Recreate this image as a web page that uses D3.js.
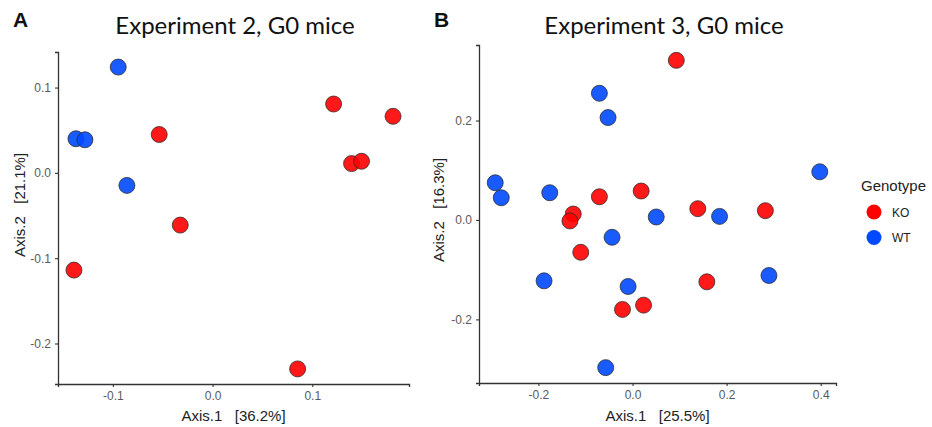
<!DOCTYPE html>
<html>
<head>
<meta charset="utf-8">
<script src="https://cdn.jsdelivr.net/npm/d3@7"></script>
<style>
  html, body { margin: 0; padding: 0; background: #fff; }
  svg { display: block; }
</style>
</head>
<body>
<svg id="chart" width="932" height="427"></svg>
<script>
// PCoA ordination, two experiments; coordinates on the first two axes.
const genotypes = ["KO", "WT"];
const genotypeColors = ["#ff0000", "#0049ff"];

// Experiment 2, G0 mice
const exp2Axis1 = [-0.0946, -0.137, -0.128, -0.0859, -0.0535, -0.0324, -0.139, 0.1214, 0.181, 0.1394, 0.1494, 0.0853];
const exp2Axis2 = [0.124, 0.040, 0.0388, -0.0147, 0.045, -0.0612, -0.114, 0.0807, 0.0663, 0.0109, 0.0136, -0.2298];
const exp2Genotype = ["WT", "WT", "WT", "WT", "KO", "KO", "KO", "KO", "KO", "KO", "KO", "KO"];
const exp2XTicks = [-0.1, 0.0, 0.1];
const exp2YTicks = [-0.2, -0.1, 0.0, 0.1];

// Experiment 3, G0 mice
const exp3Axis1 = [-0.0704, -0.052, -0.2918, -0.279, -0.1759, -0.0435, -0.188, -0.057, 0.398, 0.0504, 0.185, 0.290, -0.0094,
                   0.0931, -0.0704, -0.126, -0.133, -0.110, 0.0184, 0.1387, 0.2824, 0.158, -0.0213, 0.0235];
const exp3Axis2 = [0.2548, 0.206, 0.0748, 0.0447, 0.0548, -0.0349, -0.1224, -0.297, 0.0969, 0.006, 0.0072, -0.1117, -0.1338,
                   0.321, 0.0467, 0.012, -0.002, -0.065, 0.0582, 0.0227, 0.0187, -0.1244, -0.18, -0.1713];
const exp3Genotype = ["WT", "WT", "WT", "WT", "WT", "WT", "WT", "WT", "WT", "WT", "WT", "WT", "WT",
                      "KO", "KO", "KO", "KO", "KO", "KO", "KO", "KO", "KO", "KO", "KO"];
const exp3XTicks = [-0.2, 0.0, 0.2, 0.4];
const exp3YTicks = [-0.2, 0.0, 0.2];

const svg = d3.select("#chart");
const color = d3.scaleOrdinal().domain(genotypes).range(genotypeColors);
const fmt = d => d.toFixed(1);
const sans = "'Liberation Sans', Arial, sans-serif";

function expanded(values) {
  const [lo, hi] = d3.extent(values);
  const pad = (hi - lo) * 0.05;
  return [lo - pad, hi + pad];
}

function panel(opts) {
  const { letter, letterX, title, titleX, box, xs, ys, groups, xTicks, yTicks, xLabel, yLabel, yLabelPos } = opts;
  const x = d3.scaleLinear().domain(expanded(xs)).range([box.left, box.right]);
  const y = d3.scaleLinear().domain(expanded(ys)).range([box.bottom, box.top]);

  const g = svg.append("g");

  g.append("text")
    .attr("x", letterX).attr("y", 27)
    .attr("font-family", sans)
    .attr("font-weight", "bold").attr("font-size", 21)
    .attr("fill", "#111")
    .text(letter);

  g.append("text")
    .attr("x", titleX).attr("y", 34)
    .attr("text-anchor", "middle")
    .attr("font-family", "Lato, 'Open Sans', sans-serif")
    .attr("font-size", 24)
    .attr("fill", "#111")
    .text(title);

  const xAxis = g.append("g")
    .attr("transform", `translate(0,${box.bottom})`)
    .call(d3.axisBottom(x).tickValues(xTicks).tickFormat(fmt).tickSizeOuter(0).tickSize(3).tickPadding(4));
  const yAxis = g.append("g")
    .attr("transform", `translate(${box.left},0)`)
    .call(d3.axisLeft(y).tickValues(yTicks).tickFormat(fmt).tickSizeOuter(0).tickSize(3).tickPadding(4));

  [xAxis, yAxis].forEach(a => {
    a.attr("font-family", sans).attr("font-size", 12);
    a.select(".domain").attr("stroke", "#333").attr("stroke-width", 1.3);
    a.selectAll(".tick line").attr("stroke", "#333").attr("stroke-width", 1.1);
    a.selectAll(".tick text").attr("fill", "#5a5a5a");
  });

  g.append("text")
    .attr("x", (box.left + box.right) / 2).attr("y", 421)
    .attr("text-anchor", "middle")
    .attr("font-family", sans)
    .attr("font-size", 15)
    .attr("fill", "#222")
    .attr("xml:space", "preserve")
    .text(xLabel);

  g.append("text")
    .attr("transform", `translate(${yLabelPos[0]},${yLabelPos[1]}) rotate(-90)`)
    .attr("text-anchor", "middle")
    .attr("font-family", sans)
    .attr("font-size", 15)
    .attr("fill", "#222")
    .attr("xml:space", "preserve")
    .text(yLabel);

  g.append("g").selectAll("circle")
    .data(xs.map((v, i) => ({ a1: v, a2: ys[i], geno: groups[i] })))
    .join("circle")
    .attr("cx", d => x(d.a1))
    .attr("cy", d => y(d.a2))
    .attr("r", 8)
    .attr("fill", d => color(d.geno))
    .attr("fill-opacity", 0.9)
    .attr("stroke", "#2a2a2a")
    .attr("stroke-opacity", 0.85)
    .attr("stroke-width", 0.9);
}

panel({
  letter: "A", letterX: 13,
  title: "Experiment 2, G0 mice", titleX: 235,
  box: { left: 58, right: 409, top: 52, bottom: 384 },
  xs: exp2Axis1, ys: exp2Axis2, groups: exp2Genotype,
  xTicks: exp2XTicks, yTicks: exp2YTicks,
  xLabel: "Axis.1   [36.2%]", yLabel: "Axis.2   [21.1%]", yLabelPos: [25, 205]
});

panel({
  letter: "B", letterX: 434,
  title: "Experiment 3, G0 mice", titleX: 664,
  box: { left: 479, right: 836, top: 45, bottom: 383 },
  xs: exp3Axis1, ys: exp3Axis2, groups: exp3Genotype,
  xTicks: exp3XTicks, yTicks: exp3YTicks,
  xLabel: "Axis.1   [25.5%]", yLabel: "Axis.2   [16.3%]", yLabelPos: [444, 210]
});

// Legend
const legend = svg.append("g");
legend.append("text")
  .attr("x", 861).attr("y", 191)
  .attr("font-family", sans)
  .attr("font-size", 15).attr("fill", "#222")
  .text("Genotype");
const items = legend.selectAll("g.item").data(genotypes).join("g")
  .attr("class", "item")
  .attr("transform", (d, i) => `translate(874,${212 + i * 25.5})`);
items.append("circle").attr("r", 7.5).attr("fill", d => color(d));
items.append("text")
  .attr("x", 18).attr("y", 4.5)
  .attr("font-family", sans)
  .attr("font-size", 12).attr("fill", "#222")
  .text(d => d);
</script>
</body>
</html>
